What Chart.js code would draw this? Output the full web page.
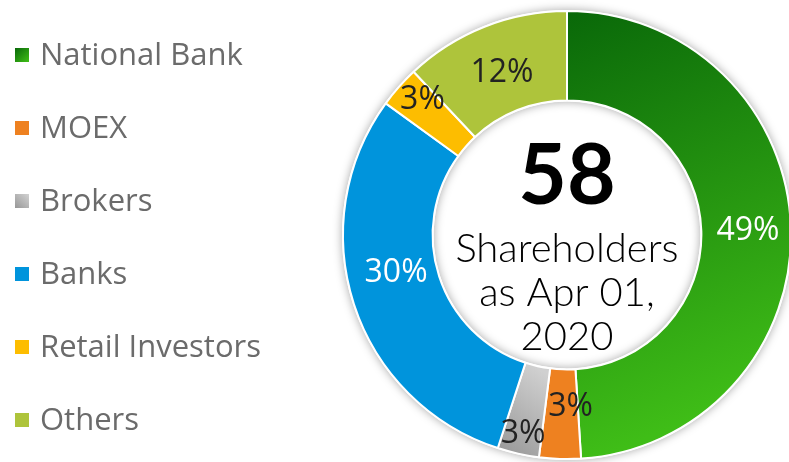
<!DOCTYPE html>
<html>
<head>
<meta charset="utf-8">
<script src="https://cdn.jsdelivr.net/npm/chart.js@4.4.1/dist/chart.umd.min.js"></script>
<style>
  html, body { margin: 0; padding: 0; background: #fff; overflow: hidden; }
  #wrap { width: 792px; height: 462px; position: relative; }
</style>
</head>
<body>
<div id="wrap"><canvas id="myChart"></canvas></div>
<script>
const labels = ['National Bank', 'MOEX', 'Brokers', 'Banks', 'Retail Investors', 'Others'];
const shares = [49, 3, 3, 30, 3, 12];
const centerValue = '58';
const centerLines = ['Shareholders', 'as Apr 01,', '2020'];

const flatColors = ['#1f8f10', '#ee8120', '#b4b4b4', '#0094dc', '#fdbd00', '#aec43b'];
const labelColors = ['#ffffff', '#222222', '#222222', '#ffffff', '#222222', '#222222'];

function sliceColor(context) {
    let i = context.dataIndex;
    let chart = context.chart;
    let area = chart.chartArea;
    if (!area) return flatColors[i];
    let ctx = chart.ctx;
    let cx = (area.left + area.right) / 2;
    let cy = (area.top + area.bottom) / 2;
    if (i === 0) {
        let g = ctx.createLinearGradient(cx, cy - 225, cx + 160, cy + 170);
        g.addColorStop(0, '#096809');
        g.addColorStop(1, '#3fbd17');
        return g;
    }
    if (i === 2) {
        let g = ctx.createLinearGradient(cx - 75, cy + 215, cx - 20, cy + 140);
        g.addColorStop(0, '#979797');
        g.addColorStop(1, '#d0d0d0');
        return g;
    }
    return flatColors[i];
}

// white ring with soft shadow under the slices
const ringShadow = {
    id: 'ringShadow',
    beforeDatasetsDraw(chart) {
        let arc = chart.getDatasetMeta(0).data[0];
        if (!arc) return;
        let ctx = chart.ctx;
        ctx.save();
        ctx.beginPath();
        ctx.arc(arc.x, arc.y, arc.outerRadius + 1, 0, Math.PI * 2);
        ctx.arc(arc.x, arc.y, arc.innerRadius - 1, 0, Math.PI * 2, true);
        ctx.fillStyle = '#ffffff';
        ctx.shadowColor = 'rgba(0,0,0,0.35)';
        ctx.shadowBlur = 10;
        ctx.fill();
        ctx.restore();
    }
};

// percent labels on the slices
const sliceLabels = {
    id: 'sliceLabels',
    afterDatasetsDraw(chart, args, opts) {
        let ctx = chart.ctx;
        let meta = chart.getDatasetMeta(0);
        ctx.save();
        ctx.font = '400 32px "Open Sans"';
        ctx.textAlign = 'center';
        ctx.textBaseline = 'middle';
        meta.data.forEach((arc, i) => {
            let mid = (arc.startAngle + arc.endAngle) / 2 + opts.angleShift[i] * Math.PI / 180;
            let r = arc.innerRadius + (arc.outerRadius - arc.innerRadius) * opts.radial[i];
            ctx.fillStyle = labelColors[i];
            ctx.fillText(shares[i] + '%', arc.x + Math.cos(mid) * r, arc.y + Math.sin(mid) * r + 2);
        });
        ctx.restore();
    }
};

// big number and caption in the hole
const centerText = {
    id: 'centerText',
    afterDatasetsDraw(chart) {
        let arc = chart.getDatasetMeta(0).data[0];
        if (!arc) return;
        let ctx = chart.ctx;
        ctx.save();
        ctx.textAlign = 'center';
        ctx.textBaseline = 'alphabetic';
        ctx.fillStyle = '#000000';
        ctx.font = '700 84px Lato';
        ctx.fillText(centerValue, arc.x, arc.y - 31);
        ctx.font = '300 40px Lato';
        centerLines.forEach((t, i) => {
            ctx.fillText(t, arc.x, arc.y + 27 + i * 44);
        });
        ctx.restore();
    }
};

// legend on the left
const sideLegend = {
    id: 'sideLegend',
    afterDraw(chart) {
        let ctx = chart.ctx;
        ctx.save();
        ctx.font = '400 31px "Open Sans"';
        ctx.textBaseline = 'alphabetic';
        labels.forEach((name, i) => {
            let y = 55 + i * 73;
            let fill = flatColors[i];
            if (i === 0) {
                fill = ctx.createLinearGradient(15, y - 7, 28, y + 7);
                fill.addColorStop(0, '#096809');
                fill.addColorStop(1, '#3fbd17');
            } else if (i === 2) {
                fill = ctx.createLinearGradient(15, y + 7, 28, y - 7);
                fill.addColorStop(0, '#979797');
                fill.addColorStop(1, '#d0d0d0');
            }
            ctx.fillStyle = fill;
            ctx.fillRect(15, y - 7, 14, 14);
            ctx.fillStyle = '#6b6b6b';
            ctx.fillText(name, 40, y + 10);
        });
        ctx.restore();
    }
};

let ctx = document.getElementById('myChart').getContext('2d');
let chart = new Chart(ctx, {
    type: 'doughnut',
    data: {
        labels: labels,
        datasets: [{
            data: shares,
            backgroundColor: sliceColor,
            borderColor: '#ffffff',
            borderWidth: 2
        }]
    },
    options: {
        responsive: true,
        maintainAspectRatio: false,
        animation: false,
        cutout: '60%',
        layout: { padding: { left: 342, top: 10, bottom: 2, right: 0 } },
        plugins: {
            legend: { display: false },
            tooltip: { enabled: false },
            sliceLabels: {
                radial: [0.52, 0.4, 0.75, 0.45, 0.72, 0.47],
                angleShift: [0, -3, 0, 6, 2, 0]
            }
        }
    },
    plugins: [ringShadow, sliceLabels, centerText, sideLegend]
});
</script>
</body>
</html>
